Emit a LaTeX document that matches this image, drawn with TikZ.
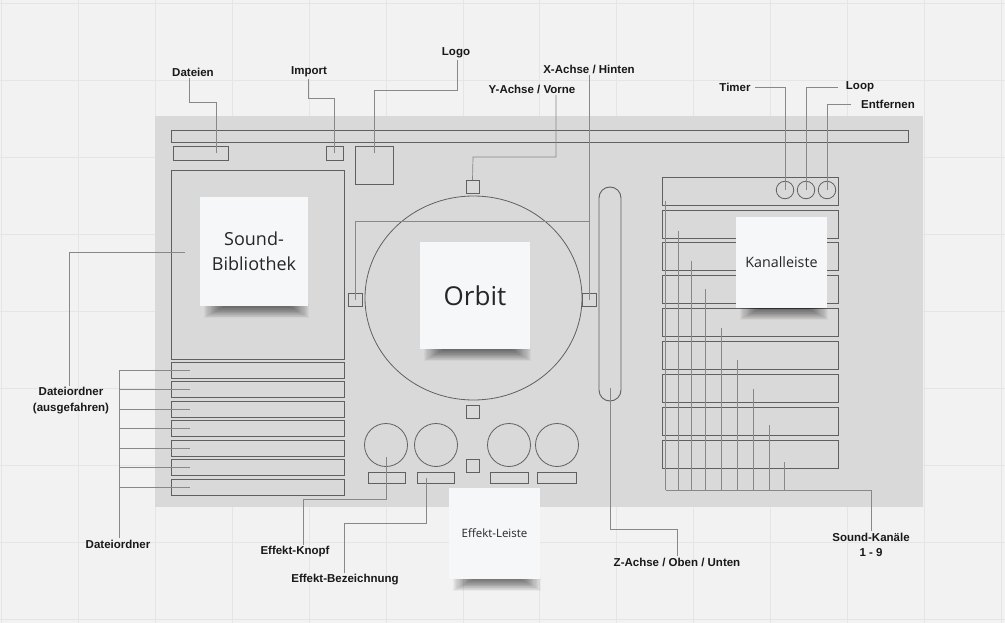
\documentclass[tikz,border=0pt]{standalone}
\usepackage{fontspec}
\setmainfont{Liberation Sans}
\newfontfamily\notefont{Open Sans}
\usetikzlibrary{shapes.geometric}
\definecolor{bgc}{HTML}{F2F2F2}
\definecolor{gridc}{HTML}{E5E5E5}
\definecolor{panelc}{HTML}{D9D9D9}
\definecolor{edgec}{HTML}{606060}
\definecolor{leadc}{HTML}{888888}
\definecolor{notec}{HTML}{F6F7F9}
% \rbox[opts]{name}{x1}{y1}{x2}{y2}
\newcommand\rbox[6][]{\node[ubox,#1,minimum width={#5-#3},minimum height={#6-#4}] (#2) at ({(#3+#5)/2},{(#4+#6)/2}) {};}
% \sticky{name}{x1}{y1}{x2}{y2}{fontsize}{baselineskip}{text}
\newcommand\sticky[8]{%
  \foreach \i in {0,...,17}{\fill[black,opacity=0.035] ({#2+4+\i*1.1},{#5-2}) rectangle ({#4+1-\i*1.1},{#5+12-\i*0.65});}
  \node[note,minimum width={#4-#2},minimum height={#5-#3},font={\notefont\fontsize{#6}{#7}\selectfont}] (#1) at ({(#2+#4)/2},{(#3+#5)/2}) {#8};}
\begin{document}
\begin{tikzpicture}[x=1pt,y=-1pt,
  ubox/.style={draw=edgec,line width=0.9pt,inner sep=0pt,outer sep=0pt,rectangle},
  lead/.style={draw=leadc,line width=0.7pt},
  knob/.style={circle,draw=edgec,line width=0.8pt,inner sep=0pt,outer sep=0pt},
  lbl/.style={font=\bfseries\fontsize{11.5}{16}\selectfont,text=black!90,inner sep=1.5pt,align=center},
  note/.style={fill=notec,inner sep=0pt,outer sep=0pt,text=black!85,align=center}]
\useasboundingbox (0,0) rectangle (1005,623);
\fill[bgc] (0,0) rectangle (1005,623);
\foreach \i in {0,...,13}{\draw[gridc,line width=0.8pt] ({1.5+76.9*\i},0) -- ({1.5+76.9*\i},623);}
\foreach \j in {0,...,8}{\draw[gridc,line width=0.8pt] (0,{3+77.1*\j}) -- (1005,{3+77.1*\j});}

% panel
\rbox[draw=none,fill=panelc]{panel}{155}{116}{923}{507}

% top elements
\rbox{topbar}{171}{130}{908}{142}
\rbox{bDateien}{173}{146}{228}{160}
\rbox{bImport}{326}{146}{343}{160}
\rbox{bLogo}{355}{146}{393}{184}

% sound library + folders
\rbox{lib}{171}{170}{344}{359}
\foreach \k/\t in {1/362,2/381.5,3/401,4/420.5,5/440,6/459.5,7/479}{\rbox{row\k}{171}{\t}{344}{\t+16}}

% orbit
\node[ellipse,draw=edgec,line width=0.8pt,inner sep=0pt,minimum width=217,minimum height=204] (orbit) at (473.5,298) {};
\rbox{sqT}{466}{180}{479}{193}
\rbox{sqL}{348}{293}{362}{306}
\rbox{sqR}{582}{293}{596}{306}
\rbox{sqB}{466}{405}{479}{418}
\rbox{sqM}{466}{459}{479}{472}

% slider
\rbox[rounded corners=11pt]{slider}{599}{187}{621}{401}

% effect knobs
\node[knob,minimum size=43] (k1) at (386,445) {};
\node[knob,minimum size=43] (k2) at (436,445) {};
\node[knob,minimum size=43] (k3) at (509,445) {};
\node[knob,minimum size=43] (k4) at (557,445) {};
\rbox{e1}{368}{472}{405}{483}
\rbox{e2}{417}{472}{454}{483}
\rbox{e3}{490}{472}{528}{483}
\rbox{e4}{537}{472}{576}{483}

% channels
\foreach \k/\t in {1/177,2/210,3/242,4/275,5/308,6/341,7/374,8/407,9/440}{\rbox{ch\k}{662}{\t}{838}{\t+28}}
\node[knob,minimum size=17.5] (cT) at (785,190) {};
\node[knob,minimum size=17.5] (cL) at (806,190) {};
\node[knob,minimum size=17.5] (cE) at (827,190) {};

% labels
\node[lbl] (lDateien) at (193,72) {Dateien};
\node[lbl] (lImport) at (309,72) {Import};
\node[lbl] (lLogo) at (456,53) {Logo};
\node[lbl] (lX) at (589,69) {X-Achse / Hinten};
\node[lbl] (lY) at (532,89) {Y-Achse / Vorne};
\node[lbl] (lTimer) at (735,87) {Timer};
\node[lbl] (lLoop) at (860,87) {Loop};
\node[lbl] (lEnt) at (888,104) {Entfernen};
\node[lbl] (lDA) at (71,401) {Dateiordner\\(ausgefahren)};
\node[lbl] (lDO) at (118,544) {Dateiordner};
\node[lbl] (lKnopf) at (295,552) {Effekt-Knopf};
\node[lbl] (lBez) at (345,580) {Effekt-Bezeichnung};
\node[lbl] (lZ) at (677,562) {Z-Achse / Oben / Unten};
\node[lbl,font=\bfseries\fontsize{11.5}{15}\selectfont] (lSK) at (871,544.5) {Sound-Kanäle\\1 - 9};

% connectors
\draw[lead] (lDateien.south -| 189,0) |- (216,102) -- (216,0 |- bDateien.center);
\draw[lead] (lImport.south -| 308,0) |- (334.5,98) -- (bImport.center);
\draw[lead] (lLogo.south -| 457,0) |- (374,90) -- ([yshift=-7pt]bLogo.north);
\draw[lead] (lX.south -| sqR.center) -- (sqR.center);
\draw[lead] (sqR.center |- 0,221) -| (sqL.center);
\draw[lead] (lY.south -| 556,0) |- (473,157) -- (sqT.north);
\draw[lead] ([xshift=3pt]lTimer.east) -| (cT.center);
\draw[lead] ([xshift=-6pt]lLoop.west) -| (cL.center);
\draw[lead] ([xshift=-8pt]lEnt.west) -| (cE.center);
\draw[lead] (lDA.north -| 69,0) |- (185,252);
\draw[lead] (lDO.north -| 119,0) -- (119,0 |- row1.center);
\foreach \k in {1,...,7}{\draw[lead] (119,0 |- row\k.center) -- ([xshift=19pt]row\k.west);}
\draw[lead] ([yshift=-12pt]k1.center) |- (303,499) -- (lKnopf.north -| 303,0);
\draw[lead] ([xshift=-9.5pt]e2.center) |- (344,523) -- (lBez.north -| 344,0);
\draw[lead] ([yshift=-94pt]slider.center) |- (677,529) -- (lZ.north);
\foreach \x/\t in {665.7/200.7,678.7/230.7,691.3/260.7,705.3/289,721.3/328.3,737.3/360,753.7/389,769.3/425,784.3/462.3}{\draw[lead] (\x,\t) -- (\x,490);}
\draw[lead] (665.7,490) -| (lSK.north);

% sticky notes
\sticky{sSound}{200}{197}{308}{306}{18}{25}{Sound-\\Bibliothek}
\sticky{sOrbit}{420}{242}{530}{349}{26}{30}{Orbit}
\sticky{sKanal}{736}{217}{827}{308}{14.3}{17}{Kanalleiste}
\sticky{sEffekt}{449}{488}{540}{579}{11.5}{14}{Effekt-Leiste}
\end{tikzpicture}
\end{document}
